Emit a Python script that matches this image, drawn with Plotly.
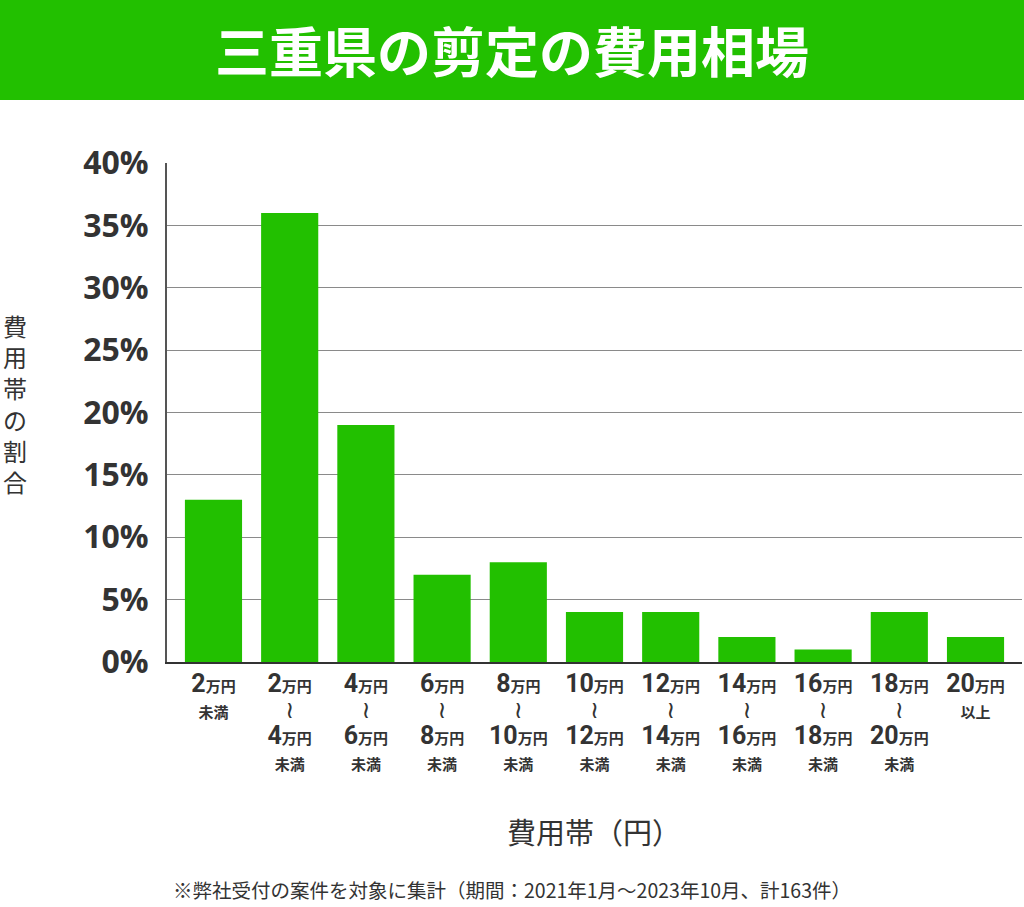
import plotly.graph_objects as go

categories = ["2万円未満", "2万円～4万円未満", "4万円～6万円未満", "6万円～8万円未満", "8万円～10万円未満",
              "10万円～12万円未満", "12万円～14万円未満", "14万円～16万円未満", "16万円～18万円未満",
              "18万円～20万円未満", "20万円以上"]
values = [13, 36, 19, 7, 8, 4, 4, 2, 1, 4, 2]
lows = ["2", "2", "4", "6", "8", "10", "12", "14", "16", "18", "20"]
highs = [None, "4", "6", "8", "10", "12", "14", "16", "18", "20", None]
suffix_last = ["未満", "未満", "未満", "未満", "未満", "未満", "未満", "未満", "未満", "未満", "以上"]
y_ticks = [0, 5, 10, 15, 20, 25, 30, 35, 40]
y_tick_labels = [f"{v}%" for v in y_ticks]

title = "三重県の剪定の費用相場"
y_title = "費用帯の割合"
x_title = "費用帯（円）"
note = "※弊社受付の案件を対象に集計（期間：2021年1月～2023年10月、計163件）"

GREEN = "#22C000"
TXT = "#333333"

def man(n):
    return (f"<span style='font-size:25px'><b>{n}</b></span>"
            f"<span style='font-size:15px'><b>万円</b></span>")

ticktext = []
for lo, hi, suf in zip(lows, highs, suffix_last):
    small = f"<span style='font-size:15px'><b>{suf}</b></span>"
    if hi is None:
        ticktext.append(man(lo) + "<br>" + small)
    else:
        ticktext.append(man(lo) + "<br><span style='font-size:24px;font-family:DejaVu Sans'>≀</span><br>"
                        + man(hi) + "<br>" + small)

x = list(range(len(categories)))

fig = go.Figure()
fig.add_trace(go.Bar(x=x, y=values, marker=dict(color=GREEN, line=dict(width=0)),
                     width=0.75, hoverinfo="skip"))

fig.update_layout(
    width=1024, height=907,
    margin=dict(l=167, r=2, t=163, b=245),
    paper_bgcolor="white", plot_bgcolor="white",
    showlegend=False,
    font=dict(family="Roboto, 'Noto Sans CJK JP', sans-serif", color=TXT),
    xaxis=dict(
        tickmode="array", tickvals=x, ticktext=ticktext,
        range=[-0.61, 10.61], showgrid=False, zeroline=False,
        showline=True, linecolor="#333333", linewidth=2,
        ticks="", ticklabelstandoff=4,
        tickfont=dict(size=20, color=TXT, family="Roboto, 'Noto Sans CJK JP', sans-serif"),
        tickangle=0,
    ),
    yaxis=dict(
        tickmode="array", tickvals=y_ticks, ticktext=[f"<b>{t}</b>" for t in y_tick_labels],
        range=[0, 40], showgrid=True, gridcolor="#8a8a8a", gridwidth=1.2,
        zeroline=False, showline=True, linecolor="#555555", linewidth=2,
        ticks="", ticklabelstandoff=10,
        tickfont=dict(size=32, color=TXT, family="'Open Sans', 'Noto Sans CJK JP', sans-serif"),
    ),
    shapes=[dict(type="rect", xref="paper", yref="paper",
                 x0=-167/855, x1=1 + 2/855, y0=1 + 63/499, y1=1 + 163/499,
                 fillcolor=GREEN, line=dict(width=0), layer="below")],
    annotations=[
        dict(text=f"<b>{title}</b>", xref="paper", yref="paper",
             x=(512-167)/855, y=1 + 114/499, xanchor="center", yanchor="middle",
             showarrow=False, font=dict(size=54, color="white", family="'Noto Sans CJK JP', sans-serif")),
        dict(text="<br>".join(y_title), xref="paper", yref="paper",
             x=-152/855, y=(662-403)/499, xanchor="center", yanchor="middle",
             showarrow=False, align="center",
             font=dict(size=24, color=TXT, family="'Noto Sans CJK JP', sans-serif")),
        dict(text=x_title, xref="paper", yref="paper",
             x=(594-167)/855, y=-(831-662)/499, xanchor="center", yanchor="middle",
             showarrow=False, font=dict(size=29, color=TXT, family="'Noto Sans CJK JP', sans-serif")),
        dict(text=note, xref="paper", yref="paper",
             x=(512-167)/855, y=-(889-662)/499, xanchor="center", yanchor="middle",
             showarrow=False, font=dict(size=19.5, color=TXT, family="'Noto Sans CJK JP', sans-serif")),
    ],
)

fig.write_html("out.html")
